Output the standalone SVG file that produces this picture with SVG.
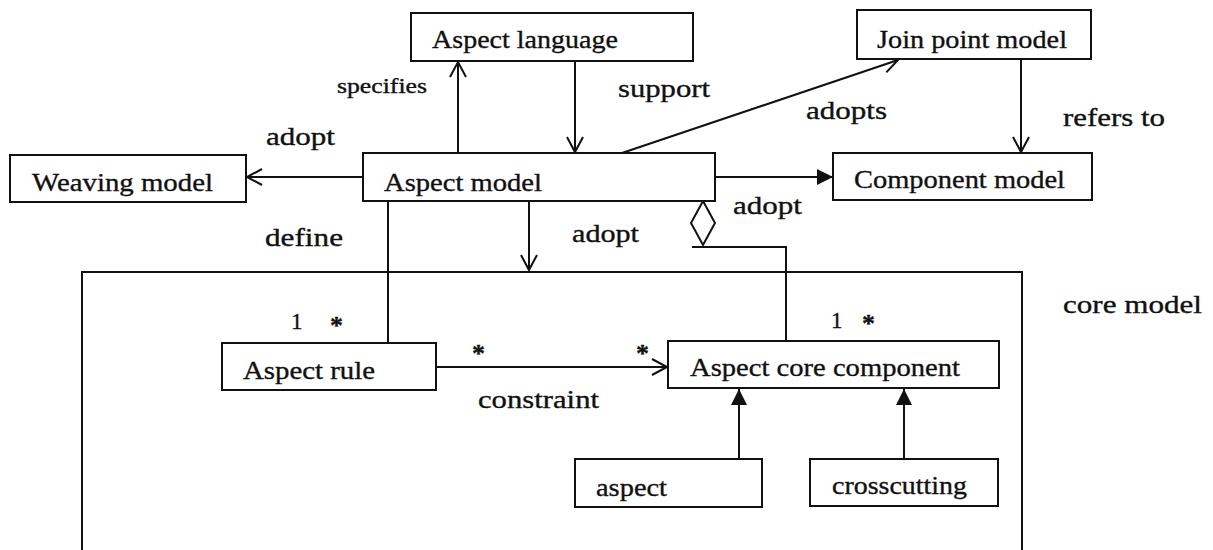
<svg xmlns="http://www.w3.org/2000/svg" width="1213" height="550" viewBox="0 0 1213 550">
  <style>
    .box { fill: #fff; stroke: #111; stroke-width: 2; }
    .frame { fill: none; stroke: #111; stroke-width: 2; }
    .edge { fill: none; stroke: #111; stroke-width: 2; }
    text { font-family: "Liberation Serif", "Times New Roman", serif; fill: #111; stroke: #111; stroke-width: 0.35; }
    .name { font-size: 26px; }
    .lbl { font-size: 26px; }
    .small { font-size: 20px; }
    .mult { font-size: 23px; }
    .star { font-size: 26px; font-weight: bold; }
  </style>
  <defs>
    <marker id="open" markerUnits="userSpaceOnUse" markerWidth="20" markerHeight="20" refX="16" refY="9" orient="auto">
      <path d="M1,1 L16,9 L1,17" fill="none" stroke="#111" stroke-width="2"/>
    </marker>
    <marker id="solid" markerUnits="userSpaceOnUse" markerWidth="20" markerHeight="20" refX="16" refY="8" orient="auto">
      <path d="M0,0 L16,8 L0,16 Z" fill="#111"/>
    </marker>
  </defs>

  <!-- enclosing core model frame -->
  <g id="core-model">
    <rect class="frame" x="82" y="272" width="940" height="300"/>
    <text class="lbl" x="1063" y="313" textLength="139" lengthAdjust="spacingAndGlyphs">core model</text>
  </g>

  <g id="connectors">
    <!-- specifies -->
    <line class="edge" x1="458" y1="153" x2="458" y2="62" marker-end="url(#open)"/>
    <!-- support -->
    <line class="edge" x1="575" y1="61" x2="575" y2="152" marker-end="url(#open)"/>
    <!-- adopts -->
    <line class="edge" x1="622" y1="153" x2="898" y2="60" marker-end="url(#open)"/>
    <!-- refers to -->
    <line class="edge" x1="1021" y1="59" x2="1021" y2="152" marker-end="url(#open)"/>
    <!-- adopt: component model -->
    <line class="edge" x1="715" y1="177" x2="833" y2="177" marker-end="url(#solid)"/>
    <!-- adopt: weaving model -->
    <line class="edge" x1="363" y1="177" x2="247" y2="177" marker-end="url(#open)"/>
    <!-- adopt: core model -->
    <line class="edge" x1="529" y1="201" x2="529" y2="270" marker-end="url(#open)"/>
    <!-- aggregation to aspect core component -->
    <path class="edge" d="M703,201 L715,223 L703,245 L691,223 Z"/>
    <polyline class="edge" points="692,247 786,247 786,341"/>
    <!-- define -->
    <line class="edge" x1="388" y1="201" x2="388" y2="343"/>
    <!-- constraint -->
    <line class="edge" x1="436" y1="367" x2="667" y2="367" marker-end="url(#open)"/>
    <!-- generalizations -->
    <line class="edge" x1="739" y1="459" x2="739" y2="389" marker-end="url(#solid)"/>
    <line class="edge" x1="904" y1="459" x2="904" y2="389" marker-end="url(#solid)"/>

    <text class="small" x="337" y="93" textLength="90" lengthAdjust="spacingAndGlyphs">specifies</text>
    <text class="lbl" x="618" y="97" textLength="92" lengthAdjust="spacingAndGlyphs">support</text>
    <text class="lbl" x="806" y="119" textLength="81" lengthAdjust="spacingAndGlyphs">adopts</text>
    <text class="lbl" x="1063" y="126" textLength="102" lengthAdjust="spacingAndGlyphs">refers to</text>
    <text class="lbl" x="266" y="145" textLength="69" lengthAdjust="spacingAndGlyphs">adopt</text>
    <text class="lbl" x="733" y="214" textLength="69" lengthAdjust="spacingAndGlyphs">adopt</text>
    <text class="lbl" x="572" y="242" textLength="67" lengthAdjust="spacingAndGlyphs">adopt</text>
    <text class="lbl" x="265" y="246" textLength="78" lengthAdjust="spacingAndGlyphs">define</text>
    <text class="lbl" x="478" y="408" textLength="121" lengthAdjust="spacingAndGlyphs">constraint</text>
    <text class="mult" x="291" y="329">1</text>
    <text class="star" x="330" y="334">*</text>
    <text class="star" x="472" y="362">*</text>
    <text class="star" x="636" y="362">*</text>
    <text class="mult" x="831" y="328">1</text>
    <text class="star" x="862" y="332">*</text>
  </g>

  <g id="aspect-language">
    <rect class="box" x="411" y="13" width="282" height="48"/>
    <text class="name" x="432" y="48" textLength="186" lengthAdjust="spacingAndGlyphs">Aspect language</text>
  </g>
  <g id="join-point-model">
    <rect class="box" x="857" y="10" width="234" height="49"/>
    <text class="name" x="877" y="48" textLength="190" lengthAdjust="spacingAndGlyphs">Join point model</text>
  </g>
  <g id="component-model">
    <rect class="box" x="833" y="153" width="259" height="47"/>
    <text class="name" x="854" y="188" textLength="211" lengthAdjust="spacingAndGlyphs">Component model</text>
  </g>
  <g id="weaving-model">
    <rect class="box" x="10" y="155" width="236" height="47"/>
    <text class="name" x="32" y="191" textLength="181" lengthAdjust="spacingAndGlyphs">Weaving model</text>
  </g>
  <g id="aspect-model">
    <rect class="box" x="363" y="153" width="352" height="48"/>
    <text class="name" x="384" y="191" textLength="158" lengthAdjust="spacingAndGlyphs">Aspect model</text>
  </g>
  <g id="aspect-rule">
    <rect class="box" x="222" y="343" width="214" height="47"/>
    <text class="name" x="243" y="379" textLength="132" lengthAdjust="spacingAndGlyphs">Aspect rule</text>
  </g>
  <g id="aspect-core-component">
    <rect class="box" x="668" y="341" width="331" height="47"/>
    <text class="name" x="690" y="376" textLength="270" lengthAdjust="spacingAndGlyphs">Aspect core component</text>
  </g>
  <g id="aspect">
    <rect class="box" x="575" y="459" width="187" height="48"/>
    <text class="name" x="596" y="496" textLength="71" lengthAdjust="spacingAndGlyphs">aspect</text>
  </g>
  <g id="crosscutting">
    <rect class="box" x="810" y="459" width="188" height="47"/>
    <text class="name" x="832" y="494" textLength="135" lengthAdjust="spacingAndGlyphs">crosscutting</text>
  </g>
</svg>
